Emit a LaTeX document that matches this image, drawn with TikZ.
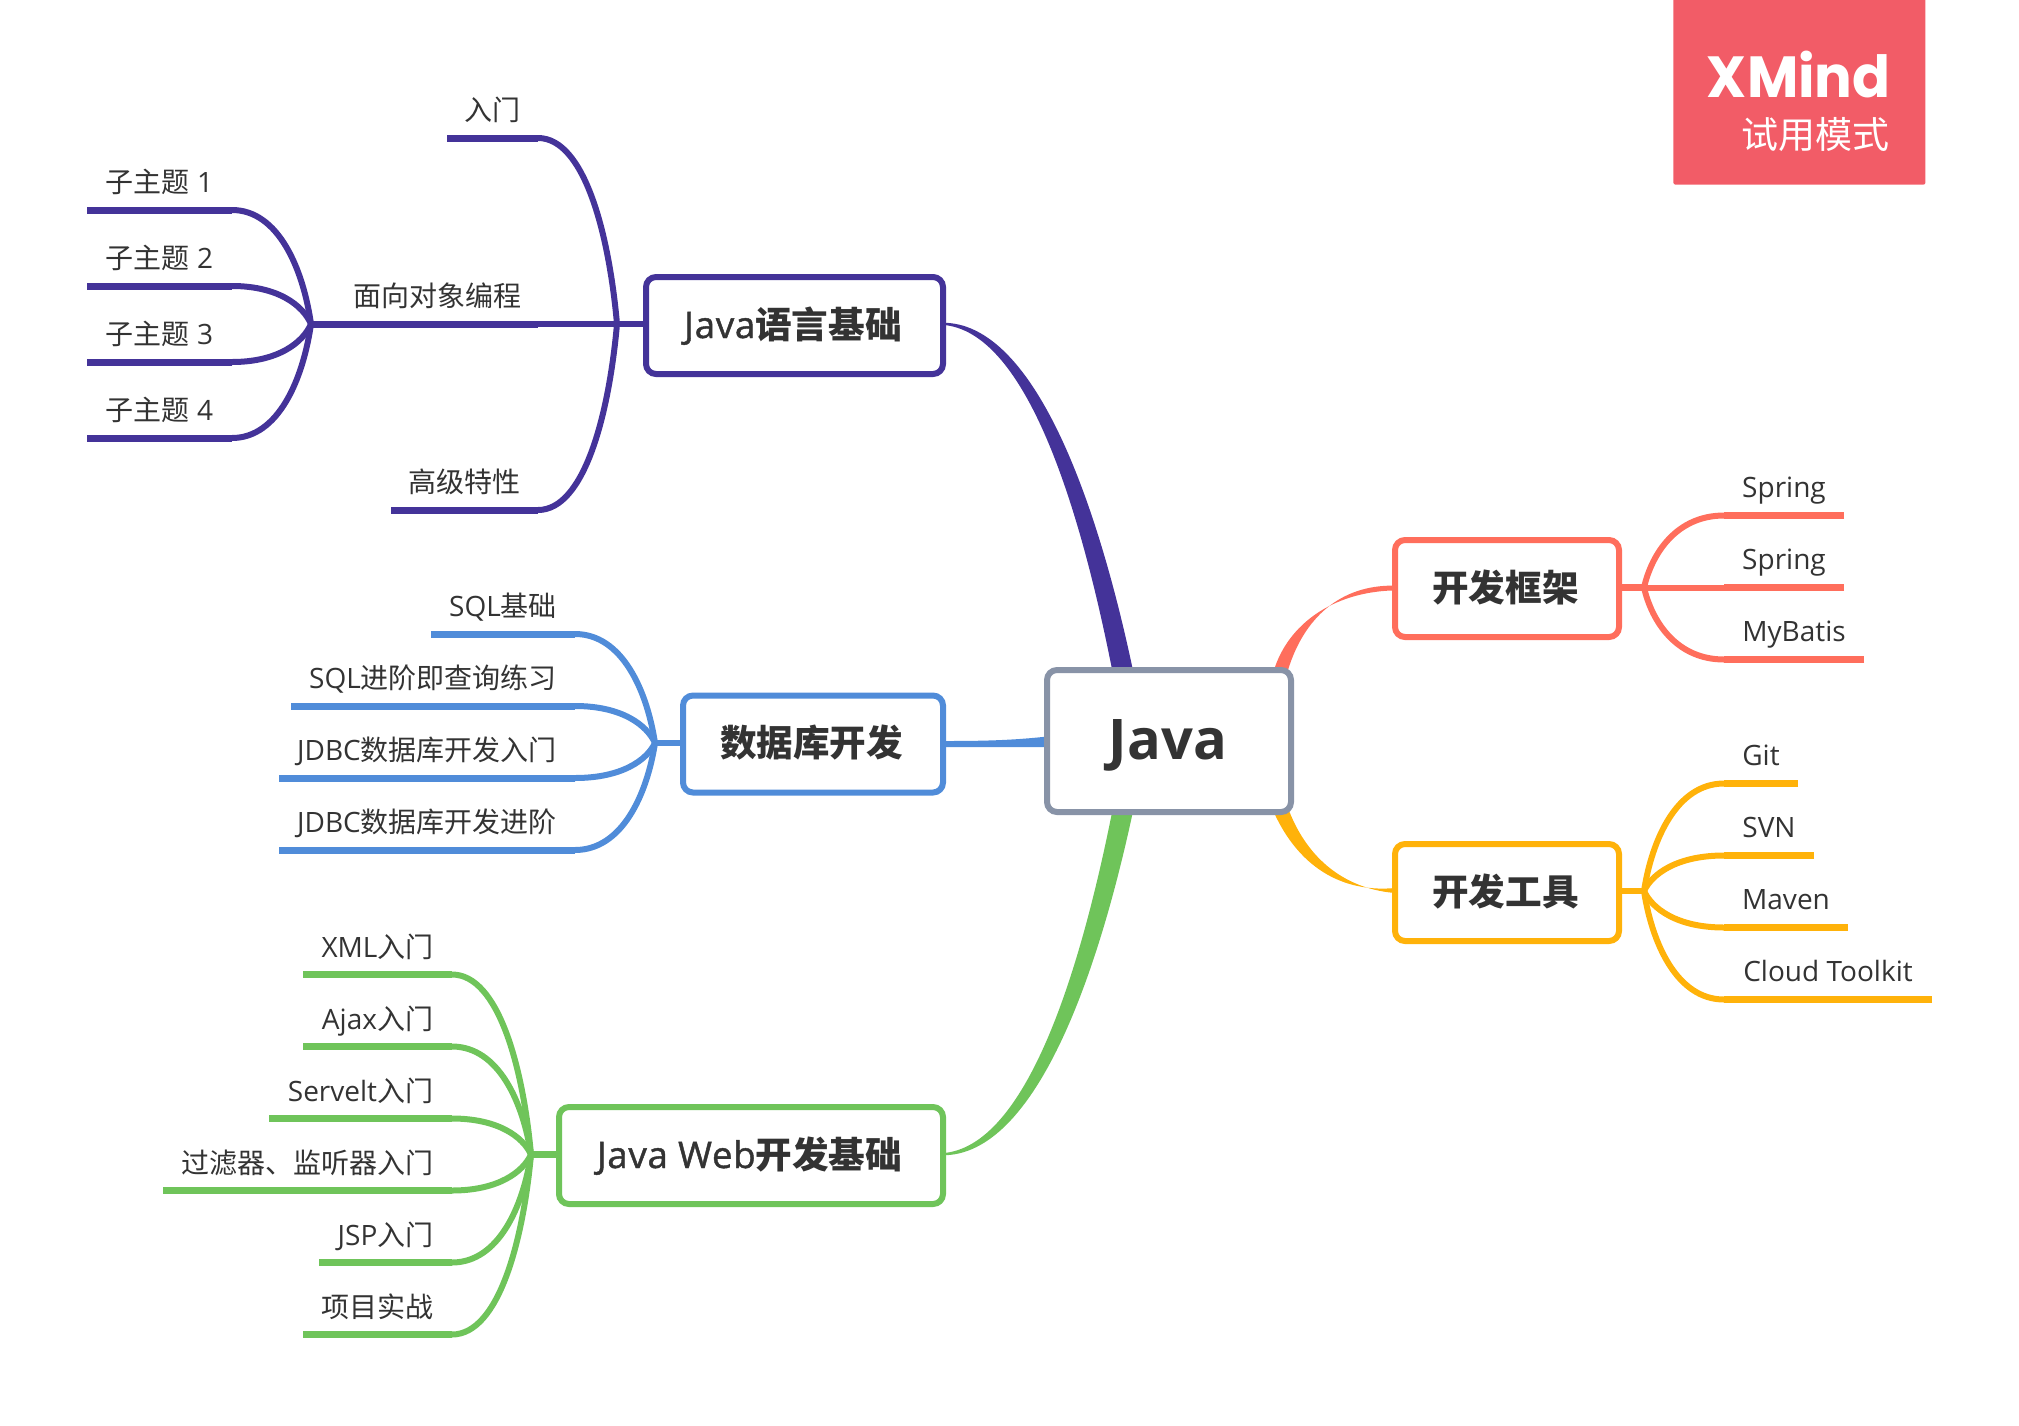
\documentclass[tikz,border=0pt]{standalone}
\usepackage{fontspec}
\usetikzlibrary{calc,backgrounds}
\setmainfont{Open Sans}
\newfontfamily\cjr{Noto Sans CJK SC}
\newfontfamily\lats{Open Sans}[FakeBold=1.2,LetterSpace=2]
\newfontfamily\logof{Poppins}[FakeStretch=0.965]
\newcommand\cj[1]{{\cjr #1}}
\newcommand\cb[1]{{\cjr\bfseries #1}}
\newcommand\nudge{\hspace*{1.5pt}}
\definecolor{cpurple}{HTML}{443399}
\definecolor{cblue}{HTML}{508CD9}
\definecolor{cgreen}{HTML}{6FC45A}
\definecolor{ccoral}{HTML}{FF6E5C}
\definecolor{camber}{HTML}{FFB20A}
\definecolor{cgray}{HTML}{8893A7}
\definecolor{ctext}{HTML}{333333}
\definecolor{cbadge}{HTML}{F25C67}
\tikzset{
  mainbox/.style={draw=cgray,fill=white,line width=3pt,rounded corners=5pt,inner sep=0pt,
    minimum width=122pt,minimum height=71pt,text height=18pt,text depth=0pt,text=ctext,
    font=\fontsize{28}{32}\selectfont\bfseries},
  branchbox/.style={fill=white,line width=3pt,rounded corners=5pt,inner sep=0pt,
    minimum height=48.5pt,text height=12.5pt,text depth=0pt,text=ctext,
    font=\fontsize{18.3}{22}\selectfont},
  leaftext/.style={inner sep=0pt,text=ctext,font=\fontsize{14}{17}\selectfont},
  leafline/.style={line width=3.5pt},
  curveline/.style={line width=3pt},
  thinline/.style={line width=3pt},
  stubline/.style={line width=3.2pt},
  badgetext/.style={inner sep=0pt,text=white}
}
\def\leafdy{17.5}
% name, colour, far x, near x, y, text
\newcommand\leaf[6]{%
  \coordinate (#1s) at (#3,#5);
  \coordinate (#1e) at (#4,#5);
  \node[leaftext,anchor=base] (#1) at ({(#3+#4)/2},{#5-\leafdy}) {#6};
  \begin{scope}[on background layer]
    \draw[leafline,#2] (#1s) -- (#1e);
  \end{scope}}
% colour, from, to
\newcommand\kid[3]{%
  \coordinate (ka) at ($(#2)!.59!(#3)$);
  \coordinate (kb) at ($(#2)!.9!(#3)$);
  \coordinate (kc) at ($(#2)!.52!(#3)$);
  \begin{scope}[on background layer]
    \draw[curveline,#1] (#2) .. controls (ka |- #2) and (kb |- kc) .. (#3);
  \end{scope}}
\begin{document}
\begin{tikzpicture}[x=0.5pt,y=-0.5pt]
\useasboundingbox (0,0) rectangle (2019,1425);
% badge
\node[fill=cbadge,rounded corners=1pt,inner sep=0pt,minimum width=126pt,minimum height=95pt,anchor=south west] (badge) at (1673,185) {};
\node[badgetext,anchor=base east,font=\logof\fontsize{29}{32}\selectfont\bfseries] (xmind) at (1891,97) {XMind};
\node[badgetext,anchor=base east,font=\cjr\fontsize{18.5}{22}\selectfont] (trial) at (1890,148) {试用模式};
% boxes
\node[mainbox] (java) at (1169,741) {Java\hspace*{1pt}};
\node[branchbox,draw=cpurple,minimum width=148.5pt] (lang) at (794.5,325.5) {{\lats Java}\cb{语言基础}\nudge};
\node[branchbox,draw=cblue,minimum width=130pt] (db) at (813,744) {\cb{数据库开发}\nudge};
\node[branchbox,draw=cgreen,minimum width=192pt] (web) at (751,1155.5) {{\lats Java Web}\cb{开发基础}\nudge};
\node[branchbox,draw=ccoral,minimum width=112pt] (fw) at (1507,588.5) {\cb{开发框架}\nudge};
\node[branchbox,draw=camber,minimum width=112pt] (tools) at (1507,892.5) {\cb{开发工具}\nudge};
% junctions
\coordinate (jlang) at (617,324);
\coordinate (jsub) at (311,324);
\coordinate (jdb) at (655,743);
\coordinate (jweb) at (531,1154.5);
\coordinate (jfw) at (1644,587.5);
\coordinate (jtools) at (1644,891);
% language branch
\leaf{la}{cpurple}{447}{538}{138}{\cj{入门}}
\leaf{lb}{cpurple}{337}{538}{324}{\cj{面向对象编程}}
\leaf{lc}{cpurple}{391}{538}{510}{\cj{高级特性}}
\leaf{sa}{cpurple}{87}{232}{210}{\cj{子主题} 1}
\leaf{sb}{cpurple}{87}{232}{286}{\cj{子主题} 2}
\leaf{sc}{cpurple}{87}{232}{362}{\cj{子主题} 3}
\leaf{sd}{cpurple}{87}{232}{438}{\cj{子主题} 4}
\kid{cpurple}{lae}{jlang}
\kid{cpurple}{lce}{jlang}
\kid{cpurple}{sae}{jsub}
\kid{cpurple}{sbe}{jsub}
\kid{cpurple}{sce}{jsub}
\kid{cpurple}{sde}{jsub}
% database branch
\leaf{da}{cblue}{431}{575}{634}{SQL\cj{基础}}
\leaf{db1}{cblue}{291}{575}{706}{SQL\cj{进阶即查询练习}}
\leaf{dc}{cblue}{279}{575}{778}{JDBC\cj{数据库开发入门}}
\leaf{dd}{cblue}{279}{575}{850}{JDBC\cj{数据库开发进阶}}
\kid{cblue}{dae}{jdb}
\kid{cblue}{db1e}{jdb}
\kid{cblue}{dce}{jdb}
\kid{cblue}{dde}{jdb}
% web branch
\leaf{wa}{cgreen}{303}{452}{974.5}{XML\cj{入门}}
\leaf{wb}{cgreen}{303}{452}{1046.5}{Ajax\cj{入门}}
\leaf{wc}{cgreen}{269}{452}{1118.5}{Servelt\cj{入门}}
\leaf{wd}{cgreen}{163}{452}{1190.5}{\cj{过滤器、监听器入门}}
\leaf{we}{cgreen}{319}{452}{1262.5}{JSP\cj{入门}}
\leaf{wf}{cgreen}{303}{452}{1334.5}{\cj{项目实战}}
\kid{cgreen}{wae}{jweb}
\kid{cgreen}{wbe}{jweb}
\kid{cgreen}{wce}{jweb}
\kid{cgreen}{wde}{jweb}
\kid{cgreen}{wee}{jweb}
\kid{cgreen}{wfe}{jweb}
\def\leafdy{18.5}
% framework branch
\leaf{fa}{ccoral}{1844}{1724}{515.5}{Spring}
\leaf{fb}{ccoral}{1844}{1724}{587.5}{Spring}
\leaf{fc}{ccoral}{1864}{1724}{659.5}{MyBatis}
\kid{ccoral}{fae}{jfw}
\kid{ccoral}{fce}{jfw}
% tools branch
\leaf{ta}{camber}{1798}{1724}{783.5}{Git}
\leaf{tb}{camber}{1814}{1724}{855.5}{SVN}
\leaf{tc}{camber}{1848}{1724}{927.5}{Maven}
\leaf{td}{camber}{1932}{1724}{999.5}{Cloud Toolkit}
\kid{camber}{tae}{jtools}
\kid{camber}{tbe}{jtools}
\kid{camber}{tce}{jtools}
\kid{camber}{tde}{jtools}
% tapered and straight connectors, behind the boxes
\coordinate (pa) at (1137,690);
\coordinate (pb) at (1116,690);
\coordinate (ga) at (1137,792);
\coordinate (gb) at (1116,792);
\coordinate (ca) at (1288,670);
\coordinate (cb) at (1274,670);
\coordinate (aa) at (1288,808);
\coordinate (ab) at (1272,808);
\coordinate (ba) at (1060,735);
\coordinate (bb) at (1060,747);
\coordinate (pe) at (946,324);
\coordinate (ge) at (946,1154);
\coordinate (ce) at (1394,588);
\coordinate (ae) at (1394,890.5);
\coordinate (be) at (946,744);
\begin{scope}[on background layer]
  \fill[cpurple] ([yshift=0.6pt]pe) .. controls (1040,327) and (1103,520) .. (pa) -- (pb) .. controls (1084,520) and (1030,336) .. ([yshift=-0.6pt]pe) -- cycle;
  \fill[cgreen] ([yshift=-0.6pt]ge) .. controls (1040,1151) and (1103,960) .. (ga) -- (gb) .. controls (1084,960) and (1030,1142) .. ([yshift=0.6pt]ge) -- cycle;
  \fill[ccoral] ([yshift=1.2pt]ce) .. controls (1340,585) and (1304,618) .. (ca) -- (cb) .. controls (1288,625) and (1332,592) .. ([yshift=-1.2pt]ce) -- cycle;
  \fill[camber] ([yshift=-1.2pt]ae) .. controls (1340,888) and (1305,854) .. (aa) -- (ab) .. controls (1294,860) and (1335,893) .. ([yshift=1.2pt]ae) -- cycle;
  \fill[cblue] ([yshift=1.5pt]be) .. controls (990,741) and (1020,740) .. (ba) -- (bb) .. controls (1020,747) and (990,747) .. ([yshift=-1.5pt]be) -- cycle;
  % stubs
  \draw[stubline,cpurple] (jlang) -- (jlang -| lang.west);
  \draw[stubline,cblue] (jdb) -- (jdb -| db.west);
  \draw[stubline,cgreen] (jweb) -- (jweb -| web.west);
  \draw[stubline,ccoral] (jfw) -- (jfw -| fw.east);
  \draw[stubline,camber] (jtools) -- (jtools -| tools.east);
  % straight links along the sub-branch
  \draw[leafline,cpurple] (jsub) -- (lbs);
  \draw[thinline,cpurple] (lbe) -- (jlang);
  \draw[thinline,ccoral] (fbe) -- (jfw);
\end{scope}
\end{tikzpicture}
\end{document}
